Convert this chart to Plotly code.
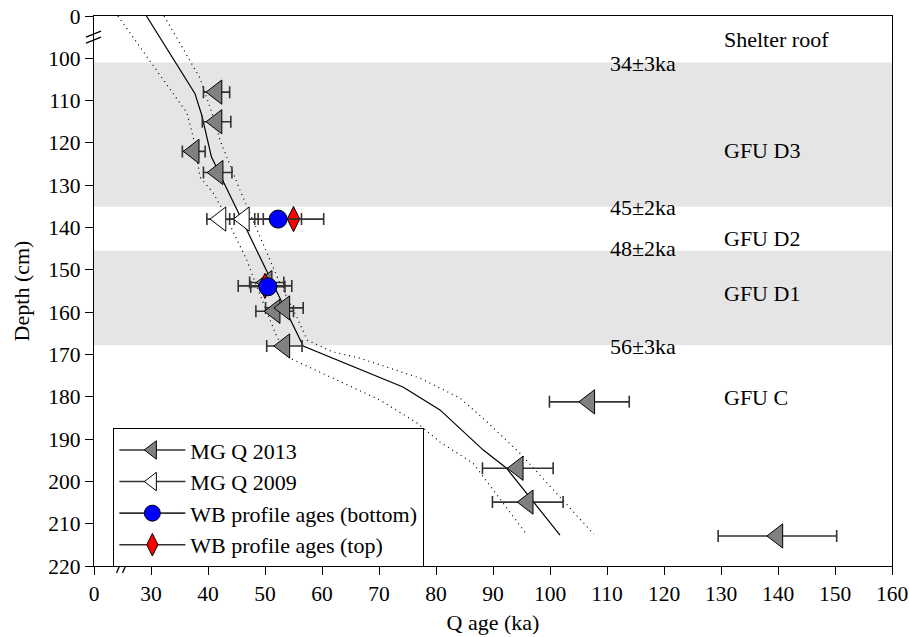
import plotly.graph_objects as go

# ---------------- data ----------------
# MG Q 2013 (grey triangles)
mg2013_age = [41.5, 41.5, 37.5, 41.7, 50.3, 51.7, 53.4, 53.4, 106.9, 94.35, 96.1, 139.9]
mg2013_err = [2.3, 2.5, 2.0, 2.5, 3.0, 3.3, 3.3, 3.1, 7.0, 6.2, 6.2, 10.4]
mg2013_depth = [108, 115, 122, 127, 153, 159.8, 159.0, 168, 181.2, 196.9, 204.9, 212.9]

# MG Q 2009 (white triangles)
mg2009_age = [42.2, 46.3]
mg2009_err = [2.4, 2.5]
mg2009_depth = [138, 138]

# WB profile ages
wb_bottom_age = [52.3, 50.5]
wb_bottom_err = [4.1, 3.0]
wb_bottom_depth = [138, 154]

wb_top_age = [55.0, 50.0]
wb_top_err = [5.3, 4.7]
wb_top_depth = [138, 153.8]

# age-depth model (solid) and its bounds (dotted)
model_depth = [0, 108.3, 113.4, 123.3, 129.2, 168.0, 177.7, 183.1, 192.6, 196.9, 212.7]
model_age = [29.2, 37.7, 38.9, 40.6, 42.7, 56.7, 74.2, 80.7, 88.3, 92.4, 101.75]

upper_depth = [0, 104.7, 111.7, 119.3, 131.1, 141.3, 153.1, 161.2, 166.6, 169.4, 170.9, 175.6, 180.3, 185.5, 193.3, 212.5]
upper_age = [32.3, 38.6, 40.4, 42.1, 45.6, 48.8, 52.6, 55.6, 57.4, 61.9, 66.7, 77.2, 84.2, 88.6, 94.7, 107.7]

lower_depth = [0, 112.9, 118.6, 128.1, 131.8, 135.9, 147.7, 154.1, 165.9, 170.9, 180.8, 186.2, 190.7, 195.7, 212.0]
lower_age = [24.2, 36.3, 37.4, 38.6, 40.9, 42.6, 46.8, 48.6, 52.1, 54.4, 70.2, 76.7, 80.7, 86.5, 95.6]

# units / boundaries
bands = [(101.0, 135.1), (145.5, 167.8)]
unit_labels = ["Shelter roof", "GFU D3", "GFU D2", "GFU D1", "GFU C"]
unit_label_depth = [95.5, 121.9, 142.6, 155.6, 180.1]
age_labels = ["34±3ka", "45±2ka", "48±2ka", "56±3ka"]
age_label_depth = [101.2, 135.2, 144.9, 168.2]

x_ticks = [20, 30, 40, 50, 60, 70, 80, 90, 100, 110, 120, 130, 140, 150, 160]
x_ticktext = ["0", "30", "40", "50", "60", "70", "80", "90", "100", "110", "120", "130", "140", "150", "160"]
y_ticks = [90, 100, 110, 120, 130, 140, 150, 160, 170, 180, 190, 200, 210, 220]
y_ticktext = ["0", "100", "110", "120", "130", "140", "150", "160", "170", "180", "190", "200", "210", "220"]

X_RANGE = [20, 160]
Y_RANGE = [220, 90]


def brk(depths):
    """broken depth axis: 0-100 cm compressed into 90-100"""
    return [90 + v / 10.0 if v < 100 else v for v in depths]


FONT = "Liberation Serif"
ERRC = "#333333"

fig = go.Figure()

# model lines
fig.add_trace(go.Scatter(x=lower_age, y=brk(lower_depth), mode="lines",
                         line=dict(color="black", width=1.2, dash="1px,4px"), showlegend=False, hoverinfo="skip"))
fig.add_trace(go.Scatter(x=upper_age, y=brk(upper_depth), mode="lines",
                         line=dict(color="black", width=1.2, dash="1px,4px"), showlegend=False, hoverinfo="skip"))
fig.add_trace(go.Scatter(x=model_age, y=brk(model_depth), mode="lines",
                         line=dict(color="black", width=1.2), showlegend=False, hoverinfo="skip"))


def err(a):
    return dict(type="data", array=a, color=ERRC, thickness=1.6, width=6)


fig.add_trace(go.Scatter(x=mg2013_age, y=mg2013_depth, mode="markers", showlegend=False,
                         error_x=err(mg2013_err),
                         marker=dict(symbol="triangle-left", size=21, color="#808080",
                                     line=dict(color="black", width=1))))
fig.add_trace(go.Scatter(x=mg2009_age, y=mg2009_depth, mode="markers", showlegend=False,
                         error_x=err(mg2009_err),
                         marker=dict(symbol="triangle-left", size=21, color="white",
                                     line=dict(color="black", width=1))))
fig.add_trace(go.Scatter(x=wb_top_age, y=wb_top_depth, mode="markers", showlegend=False,
                         error_x=err(wb_top_err),
                         marker=dict(symbol="diamond-tall", size=18, color="red",
                                     line=dict(color="black", width=1))))
fig.add_trace(go.Scatter(x=wb_bottom_age, y=wb_bottom_depth, mode="markers", showlegend=False,
                         error_x=err(wb_bottom_err),
                         marker=dict(symbol="circle", size=18, color="blue",
                                     line=dict(color="black", width=1))))

# legend entries
leg = [("MG Q 2013", "triangle-left", "#808080"),
       ("MG Q 2009", "triangle-left", "white"),
       ("WB profile ages (bottom)", "circle", "blue"),
       ("WB profile ages (top)", "diamond-tall", "red")]
for name, sym, col in leg:
    fig.add_trace(go.Scatter(x=[None], y=[None], mode="lines+markers", name=name,
                             line=dict(color=ERRC, width=1.6),
                             marker=dict(symbol=sym, size=16, color=col,
                                         line=dict(color="black", width=1))))

shapes = []
for y0, y1 in bands:
    shapes.append(dict(type="rect", xref="paper", x0=0, x1=1, yref="y", y0=y0, y1=y1,
                       fillcolor="#e5e5e5", line=dict(width=0), layer="below"))

# axis break marks (paper-referenced so they are not clipped)
ybreak_paper = (Y_RANGE[0] - 95) / (Y_RANGE[0] - Y_RANGE[1])
for dy in (-3, 3):
    shapes.append(dict(type="line", xref="paper", yref="paper", xsizemode="pixel", ysizemode="pixel",
                       xanchor=0, yanchor=ybreak_paper, x0=-8, x1=7, y0=dy - 3, y1=dy + 3,
                       line=dict(color="black", width=1.3)))
xbreak_paper = (25 - X_RANGE[0]) / (X_RANGE[1] - X_RANGE[0])
for dx in (-3, 3):
    shapes.append(dict(type="line", xref="paper", yref="paper", xsizemode="pixel", ysizemode="pixel",
                       xanchor=xbreak_paper, yanchor=0, x0=dx - 3, x1=dx + 3, y0=-7, y1=7,
                       line=dict(color="black", width=1.3)))

annotations = []
for t, d in zip(unit_labels, unit_label_depth):
    annotations.append(dict(text=t, x=130.2, y=d, xref="x", yref="y", xanchor="left",
                            yanchor="middle", showarrow=False, font=dict(family=FONT, size=22, color="black")))
for t, d in zip(age_labels, age_label_depth):
    annotations.append(dict(text=t, x=110.2, y=d, xref="x", yref="y", xanchor="left",
                            yanchor="middle", showarrow=False, font=dict(family=FONT, size=22, color="black")))

axis_common = dict(showgrid=False, zeroline=False, showline=True, linecolor="black", linewidth=1.2,
                   mirror=True, ticks="outside", ticklen=8, tickwidth=1.2, tickcolor="black",
                   automargin=False,
                   tickfont=dict(family=FONT, size=21.5, color="black"))

fig.update_layout(
    width=909, height=637,
    margin=dict(l=94, r=17, t=16, b=71, autoexpand=False),
    paper_bgcolor="white", plot_bgcolor="white",
    font=dict(family=FONT, size=21.5, color="black"),
    xaxis=dict(range=X_RANGE, tickmode="array", tickvals=x_ticks, ticktext=x_ticktext,
               title=dict(text="Q age (ka)", font=dict(family=FONT, size=22), standoff=9), **axis_common),
    yaxis=dict(range=Y_RANGE, tickmode="array", tickvals=y_ticks, ticktext=y_ticktext,
               title=dict(text="Depth (cm)", font=dict(family=FONT, size=22), standoff=12), **axis_common),
    legend=dict(x=0.024, y=0.251, xanchor="left", yanchor="top", bgcolor="white",
                bordercolor="black", borderwidth=1.2, font=dict(family=FONT, size=22),
                tracegroupgap=0, itemwidth=66),
    shapes=shapes, annotations=annotations,
)

fig.write_html("out.html")
